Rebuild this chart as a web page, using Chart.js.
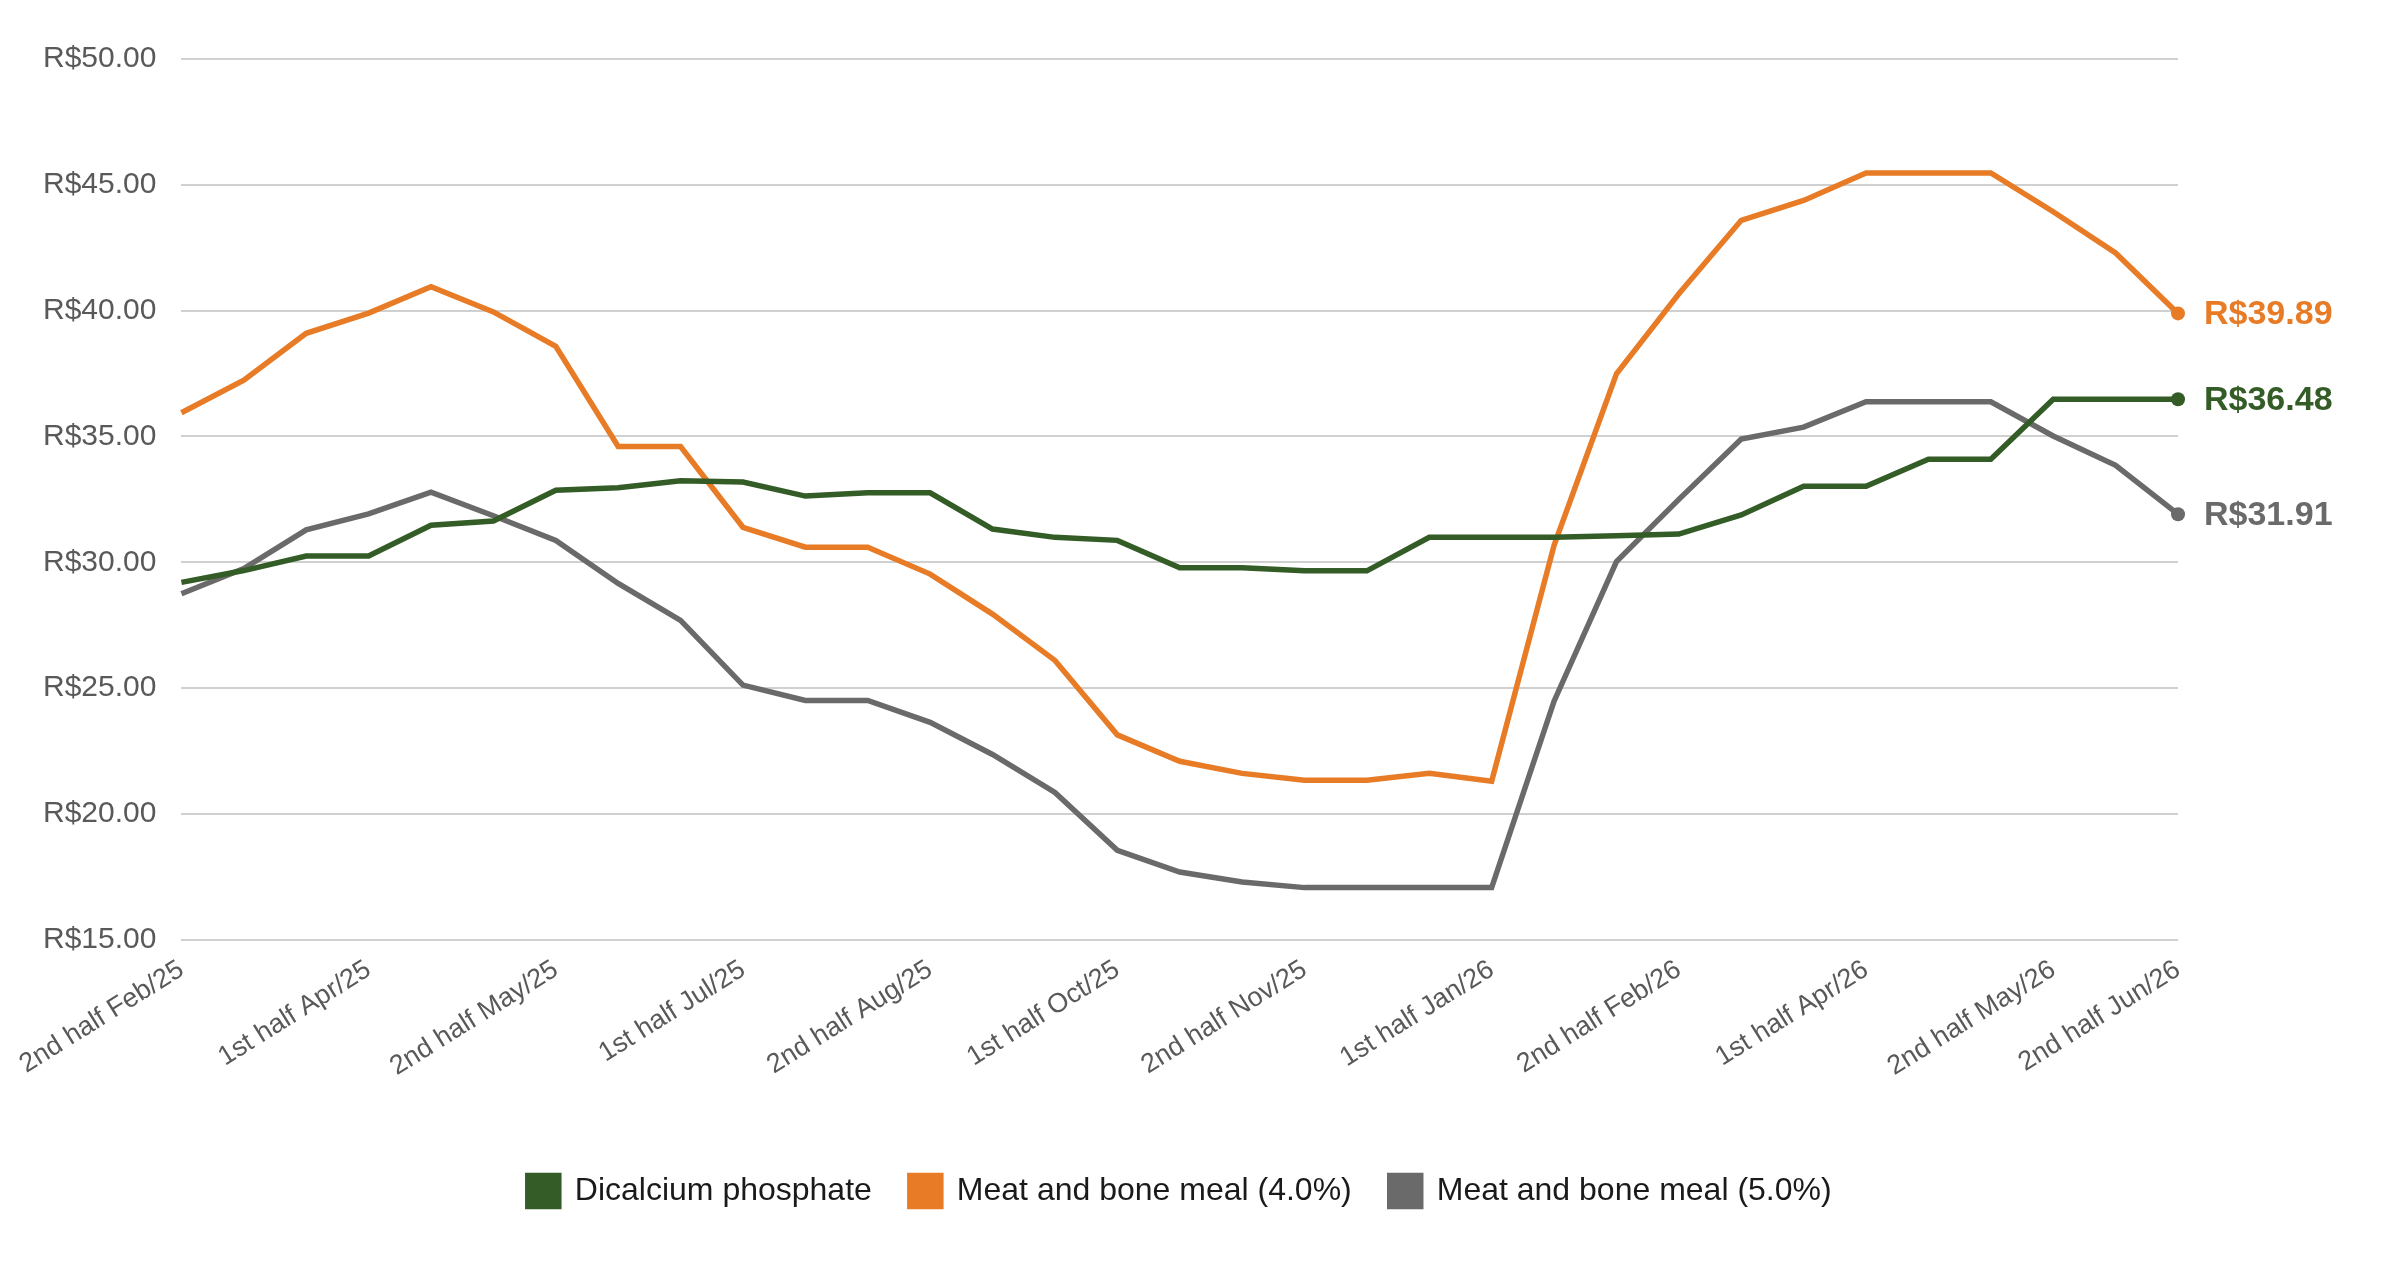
<!DOCTYPE html>
<html>
<head>
<meta charset="utf-8">
<script src="https://cdn.jsdelivr.net/npm/chart.js@4.4.1/dist/chart.umd.min.js"></script>
<style>
  html, body { margin: 0; padding: 0; background: #ffffff; }
  #wrap { width: 2400px; height: 1280px; }
</style>
</head>
<body>
<div id="wrap"><canvas id="c" width="2400" height="1280"></canvas></div>
<script>
const categories = [
  "2nd half Feb/25", "1st half Mar/25", "2nd half Mar/25", "1st half Apr/25", "2nd half Apr/25",
  "1st half May/25", "2nd half May/25", "1st half Jun/25", "2nd half Jun/25", "1st half Jul/25",
  "2nd half Jul/25", "1st half Aug/25", "2nd half Aug/25", "1st half Sep/25", "2nd half Sep/25",
  "1st half Oct/25", "2nd half Oct/25", "1st half Nov/25", "2nd half Nov/25", "1st half Dec/25",
  "2nd half Dec/25", "1st half Jan/26", "2nd half Jan/26", "1st half Feb/26", "2nd half Feb/26",
  "1st half Mar/26", "2nd half Mar/26", "1st half Apr/26", "2nd half Apr/26", "1st half May/26",
  "2nd half May/26", "1st half Jun/26", "2nd half Jun/26"
];
const dicalciumPhosphate = [
  29.20, 29.67, 30.25, 30.25, 31.47, 31.64, 32.86, 32.96, 33.24, 33.19,
  32.63, 32.76, 32.76, 31.32, 30.99, 30.87, 29.78, 29.78, 29.66, 29.66,
  30.99, 30.99, 30.99, 31.05, 31.12, 31.88, 33.02, 33.02, 34.09, 34.09,
  36.48, 36.48, 36.48
];
const meatBoneMeal40 = [
  35.94, 37.24, 39.10, 39.90, 40.95, 39.95, 38.58, 34.60, 34.60, 31.39,
  30.60, 30.60, 29.53, 27.94, 26.10, 23.14, 22.09, 21.61, 21.34, 21.34,
  21.61, 21.30, 30.67, 37.49, 40.67, 43.59, 44.38, 45.47, 45.47, 45.47,
  43.93, 42.29, 39.89
];
const meatBoneMeal50 = [
  28.75, 29.75, 31.29, 31.92, 32.79, 31.85, 30.87, 29.16, 27.69, 25.12,
  24.51, 24.51, 23.64, 22.36, 20.85, 18.55, 17.69, 17.29, 17.07, 17.07,
  17.07, 17.07, 24.48, 30.03, 32.50, 34.90, 35.37, 36.38, 36.38, 36.38,
  35.02, 33.85, 31.91
];
const seriesNames = ["Dicalcium phosphate", "Meat and bone meal (4.0%)", "Meat and bone meal (5.0%)"];
const seriesColors = ["#335C27", "#E87B26", "#6A6A6A"];
const yTicks = [15, 20, 25, 30, 35, 40, 45, 50];

const FONT = "'Liberation Sans', Arial, sans-serif";
const lastIdx = categories.length - 1;

const endLabels = {
  id: 'endLabels',
  afterDatasetsDraw(chart) {
    const ctx = chart.ctx;
    ctx.save();
    ctx.font = "bold 34px " + FONT;
    ctx.textAlign = 'left';
    ctx.textBaseline = 'middle';
    chart.data.datasets.forEach((ds, i) => {
      const meta = chart.getDatasetMeta(i);
      const pt = meta.data[lastIdx];
      const v = ds.data[lastIdx];
      ctx.fillStyle = ds.borderColor;
      ctx.fillText('R$' + v.toFixed(2), pt.x + 26, pt.y + 1);
    });
    ctx.restore();
  }
};

function makeDs(label, data, color) {
  return {
    label: label,
    data: data,
    borderColor: color,
    backgroundColor: color,
    borderWidth: 5.5,
    tension: 0,
    pointRadius: (c) => c.dataIndex === lastIdx ? 7 : 0,
    pointHoverRadius: 0,
    pointBorderWidth: 0,
    pointBackgroundColor: color
  };
}

new Chart(document.getElementById('c'), {
  type: 'line',
  data: {
    labels: categories,
    datasets: [
      makeDs(seriesNames[0], dicalciumPhosphate, seriesColors[0]),
      makeDs(seriesNames[1], meatBoneMeal40, seriesColors[1]),
      makeDs(seriesNames[2], meatBoneMeal50, seriesColors[2])
    ]
  },
  options: {
    responsive: false,
    animation: false,
    layout: { padding: { left: 18, right: 222, top: 59, bottom: 63 } },
    plugins: {
      legend: {
        position: 'bottom',
        fullSize: false,
        labels: {
          boxWidth: 31,
          boxHeight: 31,
          padding: 38,
          color: '#1a1a1a',
          font: { family: FONT, size: 32 }
        }
      },
      tooltip: { enabled: false }
    },
    scales: {
      x: {
        grid: { display: false, drawTicks: false },
        border: { display: false },
        afterFit: (axis) => { axis.height += 40; },
        ticks: {
          autoSkip: false,
          maxRotation: 32,
          minRotation: 32,
          padding: 14,
          color: '#595959',
          font: { family: FONT, size: 27 },
          callback: function (v, i) {
            return (i % 3 === 0 || i === lastIdx) ? categories[i] : '';
          }
        }
      },
      y: {
        min: 15,
        max: 50,
        afterBuildTicks: (axis) => { axis.ticks = yTicks.map(v => ({ value: v })); },
        grid: { color: '#d0d0d0', lineWidth: 2, drawTicks: false },
        border: { display: false },
        ticks: {
          padding: 25,
          color: '#595959',
          font: { family: FONT, size: 30 },
          callback: (v) => 'R$' + Number(v).toFixed(2)
        }
      }
    }
  },
  plugins: [endLabels]
});
</script>
</body>
</html>
